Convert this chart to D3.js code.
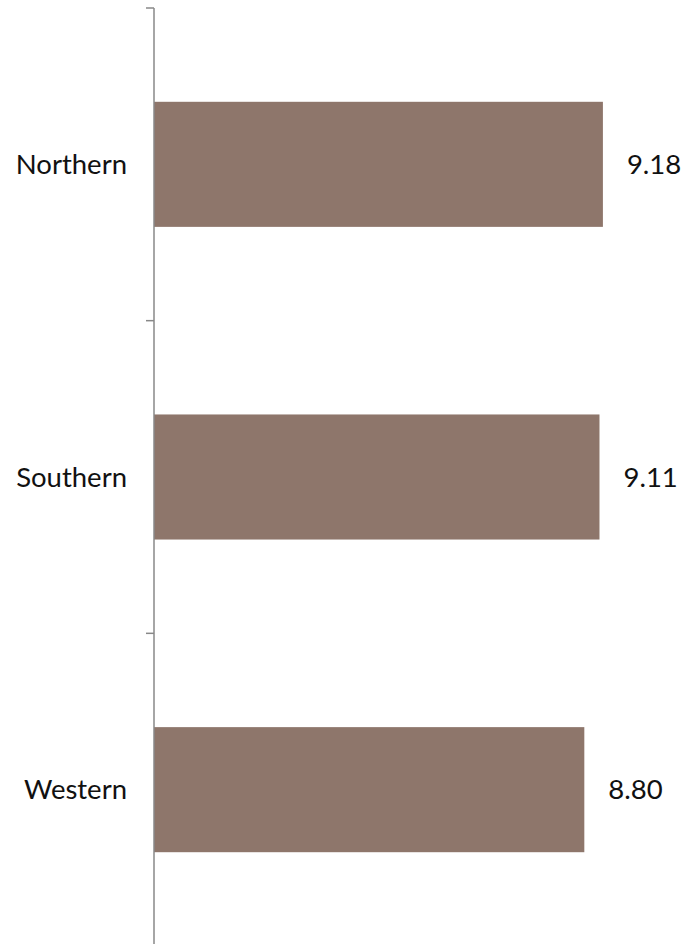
<!DOCTYPE html>
<html>
<head>
<meta charset="utf-8">
<script src="https://cdn.jsdelivr.net/npm/d3@7"></script>
<style>
  html, body { margin: 0; padding: 0; background: #fff; }
  svg { display: block; }
</style>
</head>
<body>
<svg id="chart" width="694" height="944"></svg>
<script>
// Regions and their scores
const categories = ["Northern", "Southern", "Western"];
const values = [9.18, 9.11, 8.80];
const valueLabels = ["9.18", "9.11", "8.80"];

const svg = d3.select("#chart");
const axisX = 154;
const font = "Lato, 'Open Sans', sans-serif";
const fontSize = 27.5;

const y = d3.scaleBand()
  .domain(categories)
  .range([8, 946])
  .paddingInner(0.6)
  .paddingOuter(0.3);

const x = d3.scaleLinear()
  .domain([0, 10])
  .range([axisX, 643]);

// bars
svg.append("g").selectAll("rect")
  .data(categories)
  .join("rect")
  .attr("x", x(0))
  .attr("y", d => y(d))
  .attr("width", (d, i) => x(values[i]) - x(0))
  .attr("height", y.bandwidth())
  .attr("fill", "#8e766b");

// category axis with ticks on band boundaries
const axis = svg.append("g").attr("transform", `translate(${axisX},0)`);
axis.append("line")
  .attr("x1", 0).attr("x2", 0)
  .attr("y1", 8).attr("y2", 946)
  .attr("stroke", "#888").attr("stroke-width", 1.5);

const boundaries = d3.range(categories.length + 1).map(i => 8 + i * (946 - 8) / categories.length);
axis.selectAll("line.tick")
  .data(boundaries)
  .join("line")
  .attr("class", "tick")
  .attr("x1", -8).attr("x2", 0)
  .attr("y1", d => d).attr("y2", d => d)
  .attr("stroke", "#888").attr("stroke-width", 1.5);

axis.selectAll("text")
  .data(categories)
  .join("text")
  .attr("x", -27)
  .attr("y", d => y(d) + y.bandwidth() / 2)
  .attr("dy", "0.35em")
  .attr("text-anchor", "end")
  .attr("font-family", font)
  .attr("font-size", fontSize)
  .attr("fill", "#111")
  .text(d => d);

// value labels
svg.append("g").selectAll("text")
  .data(categories)
  .join("text")
  .attr("x", (d, i) => x(values[i]) + 24)
  .attr("y", d => y(d) + y.bandwidth() / 2)
  .attr("dy", "0.35em")
  .attr("font-family", font)
  .attr("font-size", fontSize)
  .attr("fill", "#111")
  .text((d, i) => valueLabels[i]);
</script>
</body>
</html>
